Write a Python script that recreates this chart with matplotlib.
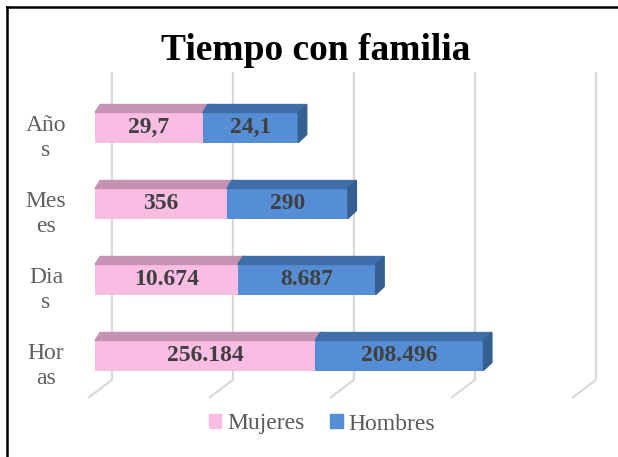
import matplotlib.pyplot as plt
from matplotlib.patches import Polygon, Patch
from matplotlib.lines import Line2D
from matplotlib import transforms

# datos del grafico
categorias = ["Año\ns", "Mes\nes", "Dia\ns", "Hor\nas"]
etiquetas_mujeres = ["29,7", "356", "10.674", "256.184"]
etiquetas_hombres = ["24,1", "290", "8.687", "208.496"]
# largo de cada tramo (unidades del eje)
largo_mujeres = [0.89, 1.09, 1.18, 1.82]
largo_hombres = [0.79, 1.00, 1.14, 1.39]
n_lineas = 5

rosa, rosa_arriba = "#F9BDE3", "#C692B3"
azul, azul_arriba, azul_lado = "#558ED5", "#3F6EA8", "#365F91"

fig = plt.figure(figsize=(6.18, 4.57), dpi=100)
W, H = 618, 457
# eje colocado para que 0 caiga en x=95px y cada division mida 121px
ax = fig.add_axes([80 / W, 1 - 400 / H, 530 / W, 335 / H])
ax.set_xlim((80 - 95) / 121, (610 - 95) / 121)
ax.set_ylim((400 - 127.5) / 76, (65 - 127.5) / 76)
ax.axis("off")

alto = 0.395      # alto de la barra
dx, dy = 0.07, -0.105   # profundidad del efecto 3d

# cuadricula: pared del fondo y piso
fondo, frente = 0.14, -0.058
y_arriba, y_abajo, y_piso = -0.73, 3.32, 3.56
for k in range(n_lineas):
    ax.plot([k + fondo, k + fondo, k + frente], [y_arriba, y_abajo, y_piso],
            color="#D9D9D9", lw=1.6, zorder=1, solid_capstyle="butt")

for i in range(len(categorias)):
    y0 = i - alto / 2
    y1 = i + alto / 2
    tramos = [(0, largo_mujeres[i], rosa, rosa_arriba),
              (largo_mujeres[i], largo_mujeres[i] + largo_hombres[i], azul, azul_arriba)]
    for a, b, c_frente, c_arriba in tramos:
        ax.barh(i, b - a, left=a, height=alto, color=c_frente, zorder=3)
        ax.add_patch(Polygon([(a, y0), (b, y0), (b + dx, y0 + dy), (a + dx * 0.6, y0 + dy)],
                             closed=True, color=c_arriba, zorder=3))
    fin = largo_mujeres[i] + largo_hombres[i]
    ax.add_patch(Polygon([(fin, y0), (fin + dx, y0 + dy), (fin + dx, y1 + dy), (fin, y1)],
                         closed=True, color=azul_lado, zorder=3))
    # etiquetas de valores
    ax.text(largo_mujeres[i] / 2, i, etiquetas_mujeres[i], ha="center", va="center",
            fontsize=17, fontweight="bold", family="Liberation Serif", color="#404040", zorder=4)
    ax.text(largo_mujeres[i] + largo_hombres[i] / 2, i, etiquetas_hombres[i], ha="center",
            va="center", fontsize=17, fontweight="bold", family="Liberation Serif",
            color="#404040", zorder=4)

# etiquetas de categorias
trans = transforms.blended_transform_factory(fig.transFigure, ax.transData)
for i, cat in enumerate(categorias):
    ax.text(46 / W, i + 0.14, cat, transform=trans, ha="center", va="center",
            fontsize=17, family="Liberation Serif", color="#606060", linespacing=1.25)

# titulo
fig.text(316 / W, 1 - 51 / H, "Tiempo con familia", ha="center", va="center",
         fontsize=27, fontweight="bold", family="Liberation Serif", color="black")

# leyenda
handles = [Patch(color=rosa, label="Mujeres"), Patch(color=azul, label="Hombres")]
leg = fig.legend(handles=handles, loc="center", bbox_to_anchor=(322 / W, 1 - 424 / H),
                 ncol=2, frameon=False, handlelength=0.52, handleheight=0.52,
                 handletextpad=0.25, columnspacing=1.1,
                 prop={"family": "Liberation Serif", "size": 17})
for t in leg.get_texts():
    t.set_color("#595959")

# borde del cuadro
fig.add_artist(Line2D([7 / W, 1], [1 - 7 / H, 1 - 7 / H], color="black", lw=1.8,
                      transform=fig.transFigure))
fig.add_artist(Line2D([7 / W, 7 / W], [0, 1 - 7 / H], color="black", lw=1.8,
                      transform=fig.transFigure))

fig.savefig("out.png", dpi=100)
